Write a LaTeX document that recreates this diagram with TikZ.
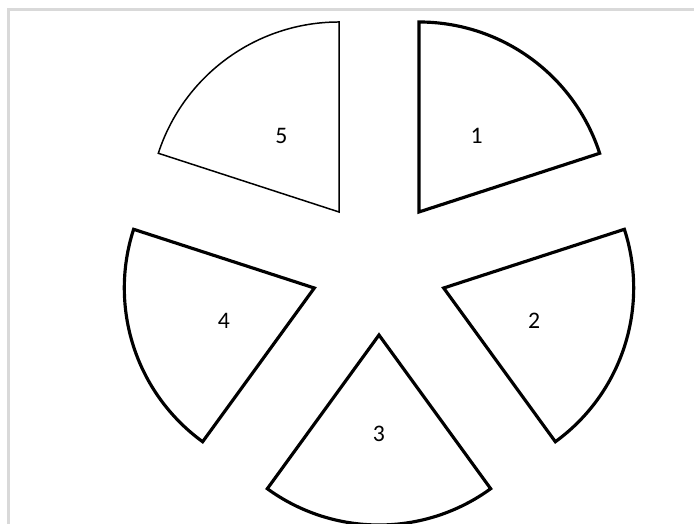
\documentclass[tikz,border=0pt]{standalone}
\usepackage{fontspec}
\setmainfont{Carlito}
\definecolor{cadregris}{HTML}{D9D9D9}

\begin{document}
\begin{tikzpicture}[
    x=0.02cm, y=0.02cm,
    font=\fontsize{13.5}{16}\selectfont,
    part/.style={draw=black, line width=1.8pt, line join=miter, fill=white},
    partthin/.style={draw=black, line width=0.85pt, line join=miter, fill=white},
    num/.style={inner sep=0pt}
  ]
    % Cadre et taille de l'image
    \useasboundingbox (-379,-257) rectangle (315,267);
    \draw[cadregris, line width=1.2pt] (-370.5,-262) -- (-370.5,257.5) -- (320,257.5);
    % Parts (centre commun, décalage 68 le long de la bissectrice)
    \draw[part, shift={(54:68)}] (0,0) -- (90:190) arc[start angle=90, end angle=18, radius=190] -- cycle;
    \draw[part, shift={(-18:68)}] (0,0) -- (18:190) arc[start angle=18, end angle=-54, radius=190] -- cycle;
    \draw[part, shift={(-90:68)}] (0,0) -- (-54:190) arc[start angle=-54, end angle=-126, radius=190] -- cycle;
    \draw[part, shift={(198:68)}] (0,0) -- (-126:190) arc[start angle=-126, end angle=-198, radius=190] -- cycle;
    \draw[partthin, shift={(126:68)}] (0,0) -- (162:190) arc[start angle=162, end angle=90, radius=190] -- cycle;
    % Etiquettes
    \node[num] (n1) at ([yshift=-2]54:166) {1};
    \node[num] (n2) at ([yshift=-2]-18:163) {2};
    \node[num] (n3) at (-90:167) {3};
    \node[num] (n4) at ([yshift=-2]198:163) {4};
    \node[num] (n5) at ([yshift=-2]126:166) {5};
\end{tikzpicture}
\end{document}
